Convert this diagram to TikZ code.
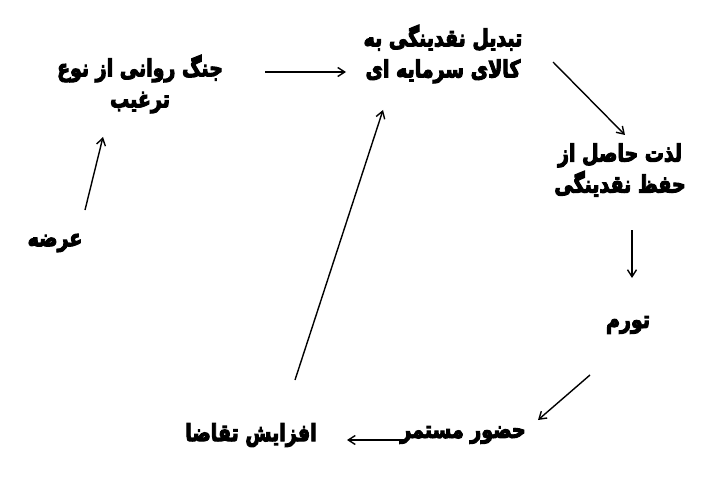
\documentclass[tikz,border=0pt]{standalone}
\usepackage{fontspec}
\newfontfamily\arabicfont[Script=Arabic]{DejaVu Sans Bold}
\TeXXeTstate=1
\usetikzlibrary{arrows.meta}
\newcommand\heavytext[1]{\special{pdf:literal direct 2 Tr 0.9 w}#1\special{pdf:literal direct 0 Tr 0.4 w}}
\newcommand\rl[1]{\scalebox{1}[1.25]{\heavytext{\beginR #1\endR}}}
\tikzset{
  lbl/.style={font=\arabicfont\fontsize{19}{31}\selectfont, align=center, inner sep=1pt},
  conn/.style={draw=black, line width=1.4pt, -{Straight Barb[length=7pt,width=9pt]}}
}
\begin{document}
\begin{tikzpicture}[x=1pt,y=-1pt]
\useasboundingbox[fill=white] (0,0) rectangle (722,497);
\node[lbl] (jang) at (140,84) {\rl{جنگ روانی از نوع}\\ \rl{ترغیب}};
\node[lbl] (tabdil) at (443,54) {\rl{تبدیل نقدینگی به}\\ \rl{کالای سرمایه ای}};
\node[lbl] (lezzat) at (620,170) {\rl{لذت حاصل از}\\ \rl{حفظ نقدینگی}};
\node[lbl] (tavarrom) at (628,325) {\rl{تورم}};
\node[lbl] (hozur) at (463,435) {\rl{حضور مستمر}};
\node[lbl] (afzayesh) at (251,435) {\rl{افزایش تقاضا}};
\node[lbl] (arze) at (55,243) {\rl{عرضه}};
\coordinate (a1s) at (265,72); \coordinate (a1e) at (346,72);
\coordinate (a2s) at (553,62); \coordinate (a2e) at (625,135);
\coordinate (a3s) at (632,230); \coordinate (a3e) at (632,278);
\coordinate (a4s) at (590,375); \coordinate (a4e) at (538,420);
\coordinate (a5s) at (405,440); \coordinate (a5e) at (347,440);
\coordinate (a6s) at (295,380); \coordinate (a6e) at (383,110);
\coordinate (a7s) at (85,210); \coordinate (a7e) at (103,137);
\draw[conn] (a1s) -- (a1e);
\draw[conn] (a2s) -- (a2e);
\draw[conn] (a3s) -- (a3e);
\draw[conn] (a4s) -- (a4e);
\draw[conn] (a5s) -- (a5e);
\draw[conn] (a6s) -- (a6e);
\draw[conn] (a7s) -- (a7e);
\end{tikzpicture}
\end{document}
